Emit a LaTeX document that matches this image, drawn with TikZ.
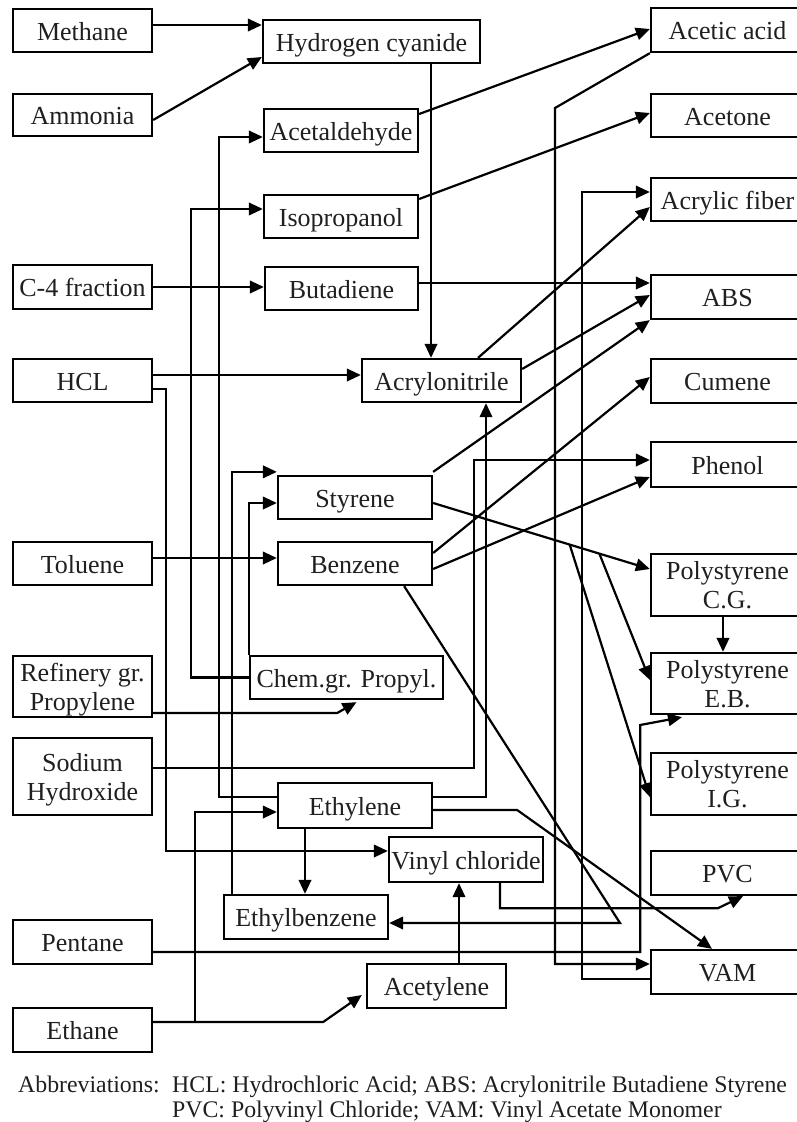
\documentclass[tikz,border=0pt]{standalone}
\usepackage{fontspec}
\setmainfont{Liberation Serif}
\usetikzlibrary{arrows.meta,calc}
\begin{document}
\begin{tikzpicture}[x=1pt,y=-1pt,
  base/.style={draw, line width=2.3pt, inner sep=0pt, align=center,
    font=\fontsize{26}{29}\selectfont, text=black!88},
  box/.style={base, text height=19.2pt, text depth=0pt, minimum height=43pt},
  tall/.style={base},
  lcol/.style={minimum width=139pt},
  rcol/.style={minimum width=153pt},
  link/.style={line width=2.2pt},
  flow/.style={link, -{Triangle[length=14pt,width=12.5pt]}},
  note/.style={anchor=base west, inner sep=0pt, text=black!88,
    font=\fontsize{23.8}{28}\selectfont}]

\useasboundingbox (0,0) rectangle (797,1122);

% feedstocks (left column)
\node[box, lcol] (methane) at (82.5,30.5) {Methane};
\node[box, lcol, minimum height=42pt] (ammonia) at (82.5,115) {Ammonia};
\node[box, lcol, minimum height=44pt] (c4) at (82.5,287) {C-4 fraction};
\node[box, lcol] (hcl) at (82.5,380.5) {HCL};
\node[box, lcol] (toluene) at (82.5,563.5) {Toluene};
\node[tall, lcol, minimum height=61pt] (refinery) at (82.5,686.5) {Refinery gr.\\\smash{Propylene}};
\node[tall, lcol, minimum height=77pt] (sodium) at (82.5,776.5) {Sodium\\\smash{Hydroxide}};
\node[box, lcol, minimum height=44pt] (pentane) at (82.5,942) {Pentane};
\node[box, lcol, minimum height=44pt] (ethane) at (82.5,1030) {Ethane};

% intermediates (middle)
\node[box, minimum width=217pt] (hcn) at (371.5,41.5) {Hydrogen cyanide};
\node[box, minimum width=154pt] (acetald) at (341,130.5) {Acetaldehyde};
\node[box, minimum width=154pt] (isoprop) at (341,216.5) {Isopropanol};
\node[box, minimum width=153pt] (butad) at (341.5,288.5) {Butadiene};
\node[box, minimum width=159pt] (acrylo) at (441.5,380.5) {Acrylonitrile};
\node[box, minimum width=154pt] (styrene) at (355,497.5) {Styrene};
\node[box, minimum width=154pt] (benzene) at (355,563.5) {Benzene};
\node[box, minimum width=193pt] (chemgr) at (346.5,677.5) {Chem.gr. Propyl.};
\node[box, minimum width=154pt, minimum height=45pt] (ethylene) at (355,805.5) {Ethylene};
\node[box, minimum width=154pt, minimum height=45pt] (vinyl) at (466,859.5) {Vinyl chloride};
\node[box, minimum width=164pt, minimum height=44pt] (ethylbz) at (306,917) {Ethylbenzene};
\node[box, minimum width=139pt, minimum height=44pt] (acetylene) at (436.5,986) {Acetylene};

% products (right column)
\node[box, rcol, minimum height=44pt] (acetic) at (727.5,30) {Acetic acid};
\node[box, rcol] (acetone) at (727.5,115.5) {Acetone};
\node[box, rcol] (acrylic) at (727.5,199.5) {Acrylic fiber};
\node[box, rcol, minimum height=44pt] (abs) at (727.5,297) {ABS};
\node[box, rcol, minimum height=44pt] (cumene) at (727.5,381) {Cumene};
\node[box, rcol, minimum height=45pt] (phenol) at (727.5,464.5) {Phenol};
\node[tall, rcol, minimum height=62pt] (pscg) at (727.5,585) {Polystyrene\\\smash{C.G.}};
\node[tall, rcol, minimum height=61pt] (pseb) at (727.5,683.5) {Polystyrene\\\smash{E.B.}};
\node[tall, rcol, minimum height=62pt] (psig) at (727.5,784) {Polystyrene\\\smash{I.G.}};
\node[box, rcol, minimum height=44pt] (pvc) at (727.5,873) {PVC};
\node[box, rcol, minimum height=44pt] (vam) at (727.5,972) {VAM};

% bend points
\coordinate (bzturn) at (620,923);
\coordinate (acbend) at (555,108);

% connectors
\draw[flow] ([yshift=5.5pt]methane.east) coordinate (t) -- (t -| hcn.west);
\draw[flow] ([yshift=-5pt]ammonia.east) -- ([yshift=-15.5pt]hcn.west);
\draw[flow] ([xshift=59.5pt]hcn.south) coordinate (t) -- (t |- acrylo.north);
\draw[flow] ([yshift=16.5pt]acetald.east) -- ([yshift=1pt]acetic.west);
\draw[flow] ([yshift=17.5pt]isoprop.east) -- ([yshift=2.5pt]acetone.west);
\draw[flow] ([yshift=8.5pt]ethylene.west) -- ++(-58,0) |- ([yshift=-6.5pt]acetald.west);
\draw[flow] (chemgr.west) -- ++(-58,0) |- ([yshift=7.5pt]isoprop.west);
\draw[flow] (c4.east) coordinate (t) -- (t -| butad.west);
\draw[flow] ([yshift=5.5pt]butad.east) coordinate (t) -- (t -| abs.west);
\draw[flow] ([yshift=5.5pt]hcl.east) coordinate (t) -- (t -| acrylo.west);
\draw[flow] ([yshift=-8.5pt]hcl.east) -- ++(13,0) |- ([yshift=8.5pt]vinyl.west);
\draw[flow] ([xshift=9pt]ethylbz.north west) |- ([yshift=3pt]styrene.north west);
\draw[flow] (chemgr.north west) |- ([yshift=-5.5pt]styrene.west);
\draw[flow] ([yshift=5.5pt]toluene.east) coordinate (t) -- (t -| benzene.west);
\draw[flow] ([yshift=-26.5pt]refinery.east) -- ++(184,0) -- ([xshift=10pt,yshift=-2pt]chemgr.south);
\draw[flow] ([yshift=8.5pt]sodium.east) -- ++(321,0) |- ([yshift=4.5pt]phenol.west);
\draw[flow] ([yshift=8.5pt]ethylene.east) -| ([xshift=44.5pt]acrylo.south);
\draw[flow] ([yshift=-4.5pt]ethylene.east) -- ++(84,0) -- ([xshift=-15.5pt]vam.north);
\draw[flow] ([xshift=-50pt]ethylene.south) coordinate (t) -- (t |- ethylbz.north);
\draw[flow] ([yshift=8pt]ethane.east) -- ++(42,0) |- ([yshift=-6.5pt]ethylene.west);
\draw[flow] ([yshift=8pt]ethane.east) -- ++(170,0) -- ([xshift=-4pt,yshift=-9pt]acetylene.west);
\draw[flow] ([xshift=22.5pt]acetylene.north) coordinate (t) -- (t |- vinyl.south);
\draw[flow] ([xshift=34pt]vinyl.south) -- ++(0,25) -- ++(218,0) -- ([xshift=15.5pt]pvc.south);
\draw[flow] ([xshift=-29pt]benzene.south east) -- (bzturn) -- (bzturn -| ethylbz.east);
\draw[flow] ([yshift=-10pt]pentane.east) -- ++(487,0) -- ++(0,-227) -- ([xshift=-45.5pt,yshift=-2pt]pseb.south);
\draw[flow] (acetic.south west) -- (acbend) |- ([yshift=8pt]vam.west);
\draw[flow] ([yshift=-7pt]vam.west) -- ++(-68,0) |- ([yshift=7.5pt]acrylic.west);
\draw[flow] ([xshift=36.5pt]acrylo.north) -- ([yshift=-7.5pt]acrylic.west);
\draw[flow] ([yshift=11.5pt]acrylo.east) -- ([yshift=2pt]abs.west);
\draw[flow] ([yshift=3pt]styrene.north east) -- (abs.south west);
\draw[flow] ([yshift=10.5pt]benzene.east) -- ([yshift=4pt]cumene.west);
\draw[flow] ([yshift=-5.5pt]benzene.east) -- ([yshift=-12.5pt]phenol.west);
\coordinate (sA) at ([yshift=-5.5pt]styrene.east);
\coordinate (sB) at ([yshift=16pt]pscg.west);
\draw[flow] (sA) -- (sB);
\draw[flow] ($(sA)!0.767!(sB)$) -- ([yshift=3.5pt]pseb.west);
\draw[flow] ($(sA)!0.63!(sB)$) -- ([yshift=-13pt]psig.west);
\draw[flow] ([xshift=-4.5pt]pscg.south) coordinate (t) -- (t |- pseb.north);

% abbreviations
\node[note] (abbr) at (18,1092) {Abbreviations:};
\node[note] (abbr1) at (172,1092) {HCL: Hydrochloric Acid; ABS: Acrylonitrile Butadiene Styrene};
\node[note] (abbr2) at (172,1117) {PVC: Polyvinyl Chloride; VAM: Vinyl Acetate Monomer};
\end{tikzpicture}
\end{document}
